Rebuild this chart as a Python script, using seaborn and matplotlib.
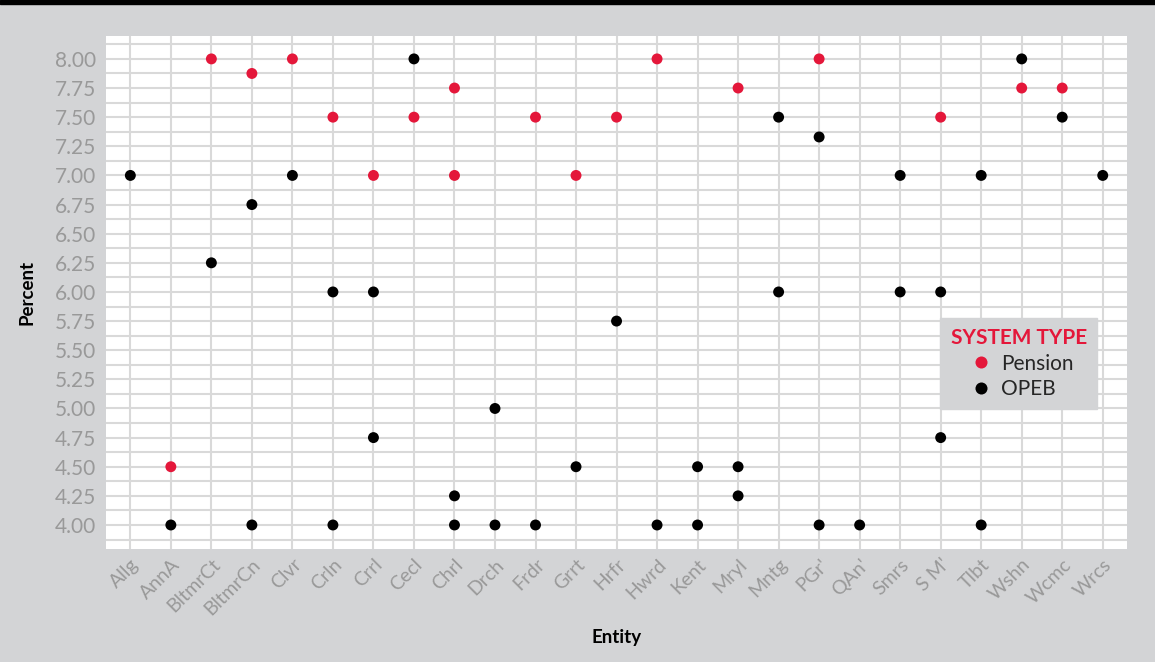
import matplotlib.pyplot as plt
import matplotlib.ticker as mticker
import seaborn as sns
import pandas as pd

entities = ["Allg", "AnnA", "BltmrCt", "BltmrCn", "Clvr", "Crln", "Crrl", "Cecl",
            "Chrl", "Drch", "Frdr", "Grrt", "Hrfr", "Hwrd", "Kent", "Mryl", "Mntg",
            "PGr'", "QAn'", "Smrs", "S M'", "Tlbt", "Wshn", "Wcmc", "Wrcs"]

# (entity, rate) pairs
pension_entity = ["AnnA", "BltmrCt", "BltmrCn", "Clvr", "Crln", "Crrl", "Cecl", "Chrl",
                  "Chrl", "Frdr", "Grrt", "Hrfr", "Hwrd", "Mryl", "PGr'", "S M'",
                  "Wshn", "Wcmc"]
pension_rate = [4.5, 8.0, 7.875, 8.0, 7.5, 7.0, 7.5, 7.75,
                7.0, 7.5, 7.0, 7.5, 8.0, 7.75, 8.0, 7.5,
                7.75, 7.75]

opeb_entity = ["Allg", "AnnA", "BltmrCt", "BltmrCn", "BltmrCn", "Clvr", "Crln", "Crln",
               "Crrl", "Crrl", "Cecl", "Chrl", "Chrl", "Drch", "Drch", "Frdr", "Grrt",
               "Hrfr", "Hwrd", "Kent", "Kent", "Mryl", "Mryl", "Mntg", "Mntg", "PGr'",
               "PGr'", "QAn'", "Smrs", "Smrs", "S M'", "S M'", "Tlbt", "Tlbt", "Wshn",
               "Wcmc", "Wrcs"]
opeb_rate = [7.0, 4.0, 6.25, 6.75, 4.0, 7.0, 6.0, 4.0,
             6.0, 4.75, 8.0, 4.25, 4.0, 5.0, 4.0, 4.0, 4.5,
             5.75, 4.0, 4.5, 4.0, 4.5, 4.25, 7.5, 6.0, 7.33,
             4.0, 4.0, 7.0, 6.0, 6.0, 4.75, 7.0, 4.0, 8.0,
             7.5, 7.0]

df = pd.concat([
    pd.DataFrame({"Entity": pension_entity, "Percent": pension_rate, "type": "Pension"}),
    pd.DataFrame({"Entity": opeb_entity, "Percent": opeb_rate, "type": "OPEB"}),
], ignore_index=True)
df["x"] = df["Entity"].map({e: i for i, e in enumerate(entities)})

bg = "#d3d4d6"
red = "#e4173a"
grid = "#d9d9d9"

sns.set_theme(style="white")
plt.rcParams["font.family"] = ["Lato", "DejaVu Sans"]

fig = plt.figure(figsize=(11.55, 6.62), dpi=100, facecolor=bg)
ax = fig.add_axes([0.0918, 0.1707, 0.884, 0.775])
ax.set_facecolor("white")

sns.scatterplot(data=df, x="x", y="Percent", hue="type", hue_order=["Pension", "OPEB"],
                palette={"Pension": red, "OPEB": "black"}, s=62, linewidth=0, ax=ax,
                zorder=3)

ax.set_xlim(-0.6, len(entities) - 0.4)
ax.set_ylim(3.794, 8.197)
ax.set_xticks(range(len(entities)))
ax.set_xticklabels(entities, rotation=45, ha="right", rotation_mode="anchor",
                   color="#999999", fontsize=14)
ax.yaxis.set_major_locator(mticker.MultipleLocator(0.25))
ax.yaxis.set_minor_locator(mticker.MultipleLocator(0.125))
ax.yaxis.set_major_formatter(mticker.FormatStrFormatter("%.2f"))
ax.tick_params(axis="y", labelsize=15, labelcolor="#999999", length=0, pad=7)
ax.tick_params(axis="x", length=0, pad=5)
ax.tick_params(which="minor", length=0)
ax.grid(True, which="both", axis="y", color=grid, linewidth=1.5)
ax.grid(True, which="major", axis="x", color=grid, linewidth=1.5)
ax.set_axisbelow(True)
for sp in ax.spines.values():
    sp.set_visible(False)

ax.set_xlabel("Entity", fontsize=13.5, fontweight="bold", color="black", labelpad=8)
ax.set_ylabel("Percent", fontsize=13.5, fontweight="bold", color="black", labelpad=14)

leg = ax.legend(title="SYSTEM TYPE", loc="lower left", bbox_to_anchor=(0.807, 0.252),
                frameon=True, facecolor=bg, edgecolor=bg, framealpha=1, fontsize=15,
                title_fontsize=15, markerscale=1.1, handletextpad=0.2, borderpad=0.5,
                labelspacing=0.25, handlelength=1.6, fancybox=False)
leg.get_title().set_color(red)
leg.get_title().set_fontweight("bold")
leg.set_zorder(5)

# black band along the top edge
fig.add_artist(plt.Rectangle((0, 0.994), 1, 0.006, transform=fig.transFigure,
                             color="black", zorder=10))

fig.savefig("out.png", dpi=100, facecolor=bg)
